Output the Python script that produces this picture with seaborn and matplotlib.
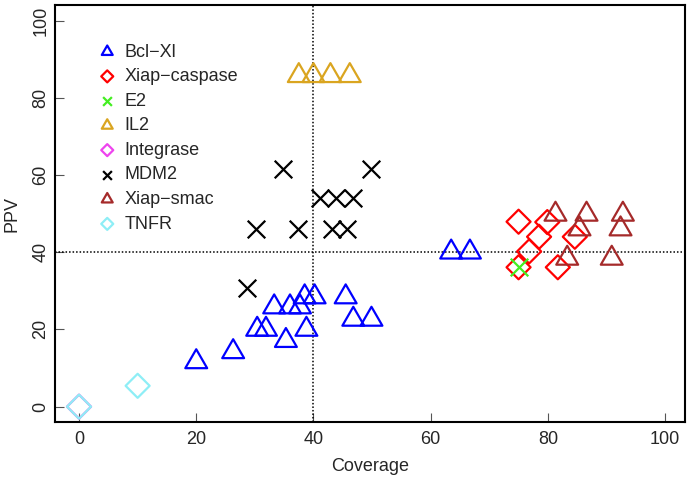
import numpy as np
import pandas as pd
import seaborn as sns
import matplotlib.pyplot as plt
from matplotlib.path import Path

# series values (Coverage, PPV)
bcl_cov = [20.0, 26.3, 30.4, 31.9, 33.3, 35.3, 36.0, 37.7, 38.5, 38.8, 40.2, 45.5, 46.8, 49.9, 63.5, 66.7]
bcl_ppv = [11.6, 14.2, 20.0, 20.0, 25.8, 17.1, 25.8, 25.8, 28.4, 20.0, 28.4, 28.4, 22.6, 22.6, 40.0, 40.0]
casp_cov = [75.0, 79.9, 78.5, 84.6, 76.8, 75.0, 81.7]
casp_ppv = [47.9, 47.8, 44.0, 44.0, 40.2, 36.1, 36.1]
e2_cov = [75.0]
e2_ppv = [36.1]
il2_cov = [37.5, 40.0, 42.9, 46.2]
il2_ppv = [85.7, 85.7, 85.7, 85.7]
integ_cov = [0.0]
integ_ppv = [0.0]
mdm2_cov = [28.6, 30.2, 34.8, 37.4, 41.2, 43.1, 43.9, 45.8, 46.7, 49.9]
mdm2_ppv = [30.7, 46.0, 61.5, 46.0, 54.0, 46.0, 54.0, 46.0, 54.0, 61.5]
smac_cov = [81.3, 86.6, 92.8, 85.4, 92.4, 83.3, 90.9]
smac_ppv = [49.8, 49.8, 49.8, 46.0, 46.0, 38.4, 38.4]
tnfr_cov = [0.0, 10.0]
tnfr_ppv = [0.0, 5.4]

names = ['Bcl\u2212Xl', 'Xiap\u2212caspase', 'E2', 'IL2', 'Integrase', 'MDM2', 'Xiap\u2212smac', 'TNFR']
colors = ['#0000FF', '#FF0000', '#44EE22', '#DAA520', '#EE44EE', '#000000', '#A52A2A', '#8EEEF6']
covs = [bcl_cov, casp_cov, e2_cov, il2_cov, integ_cov, mdm2_cov, smac_cov, tnfr_cov]
ppvs = [bcl_ppv, casp_ppv, e2_ppv, il2_ppv, integ_ppv, mdm2_ppv, smac_ppv, tnfr_ppv]

# R style open triangle, centred on its centroid
tri = Path([(0, 1), (-0.866, -0.5), (0.866, -0.5), (0, 1)],
           [Path.MOVETO, Path.LINETO, Path.LINETO, Path.CLOSEPOLY])
shapes = {'tri': (tri, 330), 'dia': ('D', 150), 'x': ('x', 160)}
kinds = ['tri', 'dia', 'x', 'tri', 'dia', 'x', 'tri', 'dia']

sns.set_theme(style='ticks')
plt.rcParams['font.family'] = ['Liberation Sans', 'DejaVu Sans']

fig = plt.figure(figsize=(6.91, 4.84), dpi=100)
ax = fig.add_axes([55 / 691, 1 - 422.3 / 484, 630 / 691, 417.6 / 484])

ax.axvline(40, color='black', ls=(0, (1, 1.3)), lw=1.1, zorder=1)
ax.axhline(40, color='black', ls=(0, (1, 1.3)), lw=1.1, zorder=1)

for name, col, kind, cv, pv in zip(names, colors, kinds, covs, ppvs):
    df = pd.DataFrame({'Coverage': cv, 'PPV': pv})
    m, s = shapes[kind]
    if kind == 'x':
        sns.scatterplot(data=df, x='Coverage', y='PPV', marker=m, s=s, color=col,
                        linewidth=1.6, label=name, ax=ax, zorder=3)
    else:
        sns.scatterplot(data=df, x='Coverage', y='PPV', marker=m, s=s, color=col,
                        facecolor='none', edgecolor=col, linewidth=1.6,
                        label=name, ax=ax, zorder=3)

ax.set_xlim(-4.1, 103.4)
ax.set_ylim(-4.05, 104.1)
ax.set_xticks(range(0, 101, 20))
ax.set_yticks(range(0, 101, 20))
ax.tick_params(direction='in', length=6.5, width=0.8, color='#555555', labelsize=13, pad=6)
ax.tick_params(axis='y', pad=4)
for lbl in ax.get_yticklabels():
    lbl.set_rotation(90)
    lbl.set_va('center')
for sp in ax.spines.values():
    sp.set_linewidth(1.5)
    sp.set_color('black')

ax.set_xlabel('Coverage', fontsize=13)
ax.set_ylabel('PPV', fontsize=13)
ax.xaxis.set_label_coords(0.5, -0.107)
ax.xaxis.label.set_va('center')
ax.yaxis.set_label_coords(-0.068, 0.5)
ax.yaxis.label.set_va('center')

ax.legend(loc='upper left', bbox_to_anchor=(0.0686, 0.907), frameon=False,
          fontsize=13, markerscale=0.5, handlelength=1.0, handletextpad=0.45,
          labelspacing=0.42, borderpad=0, borderaxespad=0)

fig.savefig('out.png', dpi=100)
